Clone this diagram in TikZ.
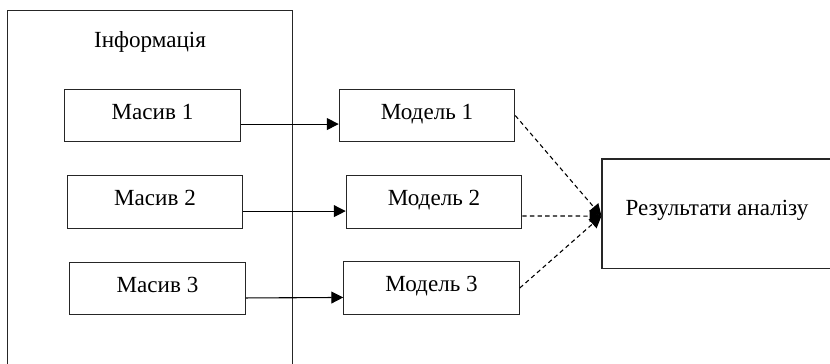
\documentclass[tikz,border=0pt]{standalone}
\usepackage{fontspec}
\setmainfont{Liberation Serif}
\usepackage{tikz}
\usetikzlibrary{positioning,arrows.meta}

\begin{document}
\begin{tikzpicture}[
        x=0.55pt, y=-0.55pt,
        font=\fontsize{12.7}{15}\selectfont,
        arrow/.style={-{Triangle[length=6.5pt, width=6.5pt]}, line width=0.6pt, draw=black},
        dasharrow/.style={arrow, dash pattern=on 2.4pt off 1.8pt},
        block/.style={
            draw=black!85,
            line width=0.6pt,
            align=center,
            minimum width=96.5pt,
            minimum height=28.8pt,
            text height=9pt,
            text depth=5pt,
            inner sep=2pt
        }
    ]

    \useasboundingbox (0,0) rectangle (830,363);

    % Step 1: source data frame
    \node[
        draw=black!85,
        line width=0.6pt,
        anchor=north west,
        minimum width=156.8pt,
        minimum height=209pt,
        inner sep=0pt
    ] (info) at (7,10) {};

    \node[below=8pt of info.north] (infotitle) {Інформація};

    % Step 2: data arrays
    \node[block] (arr1) at (152.5,115.5) {Масив 1};
    \node[block] (arr2) at (155,202)     {Масив 2};
    \node[block] (arr3) at (157.5,288.5) {Масив 3};

    % Step 3: models
    \node[block] (mod1) at (427,115.5) {Модель 1};
    \node[block] (mod2) at (434,202)   {Модель 2};
    \node[block] (mod3) at (431.5,288) {Модель 3};

    \draw[arrow] ([yshift=-4.7pt]arr1.east) -- ([yshift=-4.7pt]mod1.west);
    \draw[arrow] ([yshift=-5pt]arr2.east) -- ([yshift=-5pt]mod2.west);
    \draw[arrow] ([yshift=-5.2pt]arr3.east) -- ([yshift=-5.2pt]mod3.west);

    % Step 4: result of the analysis
    \node[
        block,
        minimum width=126.5pt,
        minimum height=60pt,
        text depth=7pt
    ] (result) at (717,213.5) {Результати аналізу};

    \coordinate (hub) at ([yshift=-1.4pt]result.west);

    \draw[dasharrow] (mod1.east) -- (hub);
    \draw[dasharrow] ([yshift=-7.7pt]mod2.east) -- (hub);
    \draw[dasharrow] (mod3.east) -- (hub);

    \end{tikzpicture}
\end{document}
